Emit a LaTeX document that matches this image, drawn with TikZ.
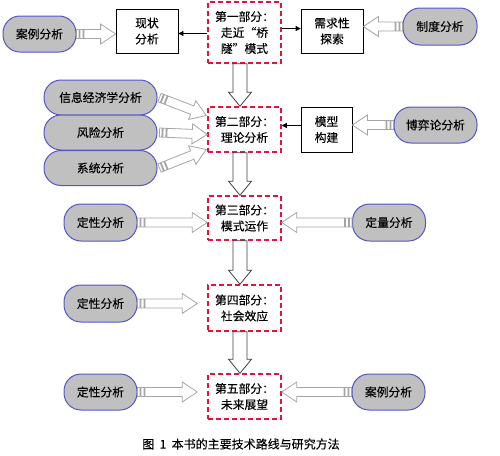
\documentclass[tikz,border=0pt]{standalone}
\usepackage{fontspec}
\setmainfont{Noto Sans CJK SC}[FakeBold=0.12]
\usetikzlibrary{calc,arrows.meta}
\definecolor{pillfill}{RGB}{192,192,192}
\definecolor{pillline}{RGB}{85,85,200}
\definecolor{dred}{RGB}{225,20,60}
\definecolor{harrowline}{RGB}{165,165,165}
\tikzset{
 base/.style={font=\fontsize{11.8}{16}\selectfont, inner sep=0pt, align=center},
 part/.style={base, draw=dred, line width=1.5pt, dash pattern=on 5pt off 3pt, minimum width=73pt, minimum height=45pt},
 box/.style={base, draw=black, line width=0.8pt, minimum width=62pt, minimum height=44pt},
 pill/.style={base, draw=pillline, fill=pillfill, line width=1pt, rounded corners=17pt, minimum width=73pt, minimum height=36pt},
 grayarrow/.style={draw=harrowline, fill=white, line width=0.8pt},
 blackhollow/.style={draw=black!75, fill=white, line width=0.8pt},
 thinarrow/.style={draw=black, line width=0.8pt, -{Triangle[length=5pt,width=5pt]}},
 caption/.style={font=\fontsize{12}{14}\selectfont, inner sep=0pt},
}
\newcommand\striparrow[2]{%
 \path[grayarrow] let \p1=(#1), \p2=(#2),
   \n1={atan2(\y2-\y1,\x2-\x1)}, \n2={veclen(\x2-\x1,\y2-\y1)}, \n3={\n1+90} in
   ($(\p1)+(\n3:4.5pt)$) -- ($(\p1)+(\n1:2.5pt)+(\n3:4.5pt)$) -- ($(\p1)+(\n1:2.5pt)+(\n3:-4.5pt)$) -- ($(\p1)+(\n3:-4.5pt)$) -- cycle
   ($(\p1)+(\n1:3.5pt)+(\n3:4.5pt)$) -- ($(\p1)+(\n1:6.5pt)+(\n3:4.5pt)$) -- ($(\p1)+(\n1:6.5pt)+(\n3:-4.5pt)$) -- ($(\p1)+(\n1:3.5pt)+(\n3:-4.5pt)$) -- cycle
   ($(\p1)+(\n1:7.5pt)+(\n3:4.5pt)$) -- ($(\p1)+(\n1:{(\n2-15)*1pt})+(\n3:4.5pt)$) -- ($(\p1)+(\n1:{(\n2-15)*1pt})+(\n3:10pt)$) -- (\p2) -- ($(\p1)+(\n1:{(\n2-15)*1pt})+(\n3:-10pt)$) -- ($(\p1)+(\n1:{(\n2-15)*1pt})+(\n3:-4.5pt)$) -- ($(\p1)+(\n1:7.5pt)+(\n3:-4.5pt)$) -- cycle;
}
\newcommand\hollowdown[2]{%
 \path[blackhollow] let \p1=(#1), \p2=(#2),
   \n1={atan2(\y2-\y1,\x2-\x1)}, \n2={veclen(\x2-\x1,\y2-\y1)}, \n3={\n1+90} in
   ($(\p1)+(\n3:7pt)$) -- ($(\p1)+(\n1:{(\n2-14)*1pt})+(\n3:7pt)$) -- ($(\p1)+(\n1:{(\n2-14)*1pt})+(\n3:11.5pt)$) -- (\p2) -- ($(\p1)+(\n1:{(\n2-14)*1pt})+(\n3:-11.5pt)$) -- ($(\p1)+(\n1:{(\n2-14)*1pt})+(\n3:-7pt)$) -- ($(\p1)+(\n3:-7pt)$) -- cycle;
}
\begin{document}
\begin{tikzpicture}[x=1pt,y=-1pt]
\useasboundingbox (0,0) rectangle (500,455);
% parts
\node[part, minimum height=61pt] (p1) at (244.5,32.5) {第一部分：\\走近“桥\\隧”模式};
\node[part] (p2) at (244.5,129.5) {第二部分：\\理论分析};
\node[part, minimum height=44pt] (p3) at (244.5,218) {第三部分：\\模式运作};
\node[part, minimum height=46pt] (p4) at (244.5,308) {第四部分：\\社会效应};
\node[part] (p5) at (244.5,396.5) {第五部分：\\未来展望};
% plain boxes
\node[box] (xz) at (147,31) {现状\\分析};
\node[box] (xq) at (332,31) {需求性\\探索};
\node[box, minimum width=51pt, minimum height=45pt] (mx) at (326.5,129.5) {模型\\构建};
% pills
\node[pill] (case1) at (39.5,34) {案例分析};
\node[pill, minimum width=74pt, minimum height=37pt] (zd) at (440,26.5) {制度分析};
\node[pill, minimum width=113pt, minimum height=35pt] (xx) at (100.5,97.5) {信息经济学分析};
\node[pill, minimum width=113pt, minimum height=35pt] (fx) at (100.5,132.5) {风险分析};
\node[pill, minimum width=113pt, minimum height=35pt] (xt) at (100.5,168) {系统分析};
\node[pill, minimum width=83pt] (by) at (435.5,125) {博弈论分析};
\node[pill, minimum height=37pt] (dx1) at (100.5,222.5) {定性分析};
\node[pill, minimum height=37pt] (dl) at (389,222.5) {定量分析};
\node[pill, minimum height=37pt] (dx2) at (100.5,303.5) {定性分析};
\node[pill] (dx3) at (100.5,392) {定性分析};
\node[pill] (case2) at (388.5,392) {案例分析};
% caption
\node[caption] (cap) at (241,444) {图~~1~~本书的主要技术路线与研究方法};
% thin black arrows
\draw[thinarrow] ($(p1.west)+(0,1)$) -- ($(p1.west -| xz.east)+(0,1)$);
\draw[thinarrow] ($(p1.east)+(0,-4)$) -- ($(p1.east -| xq.west)+(0,-4)$);
\draw[thinarrow] ($(mx.west)+(0,-4)$) -- ($(mx.west -| p2.east)+(0,-4)$);
% hollow down arrows
\hollowdown{$(p1.south)+(-4.5,0)$}{$(p2.north)+(-4.5,0)$}
\hollowdown{$(p2.south)+(-4.5,0)$}{$(p3.north)+(-4.5,0)$}
\hollowdown{$(p3.south)+(-4.5,0)$}{$(p4.north)+(-4.5,0)$}
\hollowdown{$(p4.south)+(-4.5,0)$}{$(p5.north)+(-4.5,0)$}
% striped gray arrows
\striparrow{case1.east}{case1.east -| xz.west}
\striparrow{zd.west}{zd.west -| xq.east}
\striparrow{$(xx.east)+(2,0)$}{$(p2.west)+(-1,-14)$}
\striparrow{$(fx.east)+(2,0)$}{$(p2.west)+(0,5)$}
\striparrow{$(xt.east)+(2,0)$}{$(p2.west)+(-1,20)$}
\striparrow{by.west}{by.west -| mx.east}
\striparrow{dx1.east}{dx1.east -| p3.west}
\striparrow{dl.west}{dl.west -| p3.east}
\striparrow{dx2.east}{$(dx2.east -| p4.west)+(-10,0)$}
\striparrow{dx3.east}{$(dx3.east -| p5.west)+(-10,0)$}
\striparrow{case2.west}{case2.west -| p5.east}
\end{tikzpicture}
\end{document}
